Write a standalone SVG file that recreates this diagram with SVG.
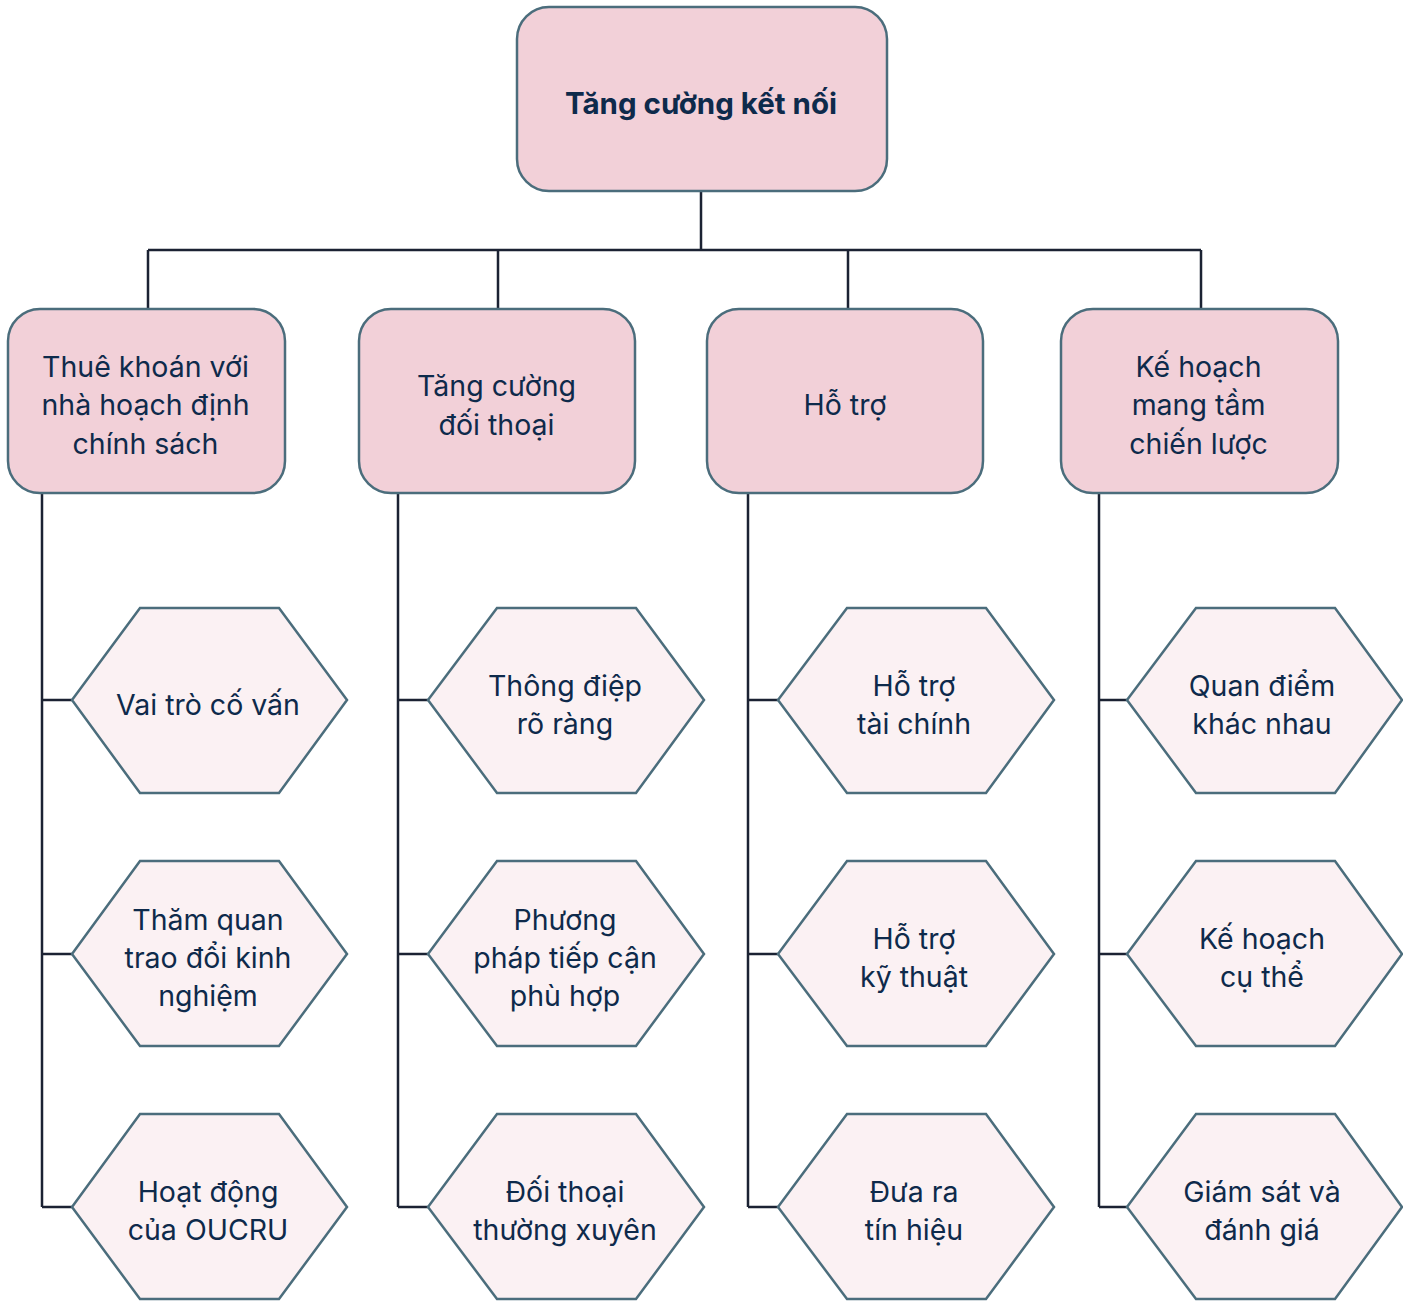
<svg xmlns="http://www.w3.org/2000/svg" width="1403" height="1302" viewBox="0 0 1403 1302">
  <style>
    .box { fill: #f2d0d8; stroke: #4b6d7c; stroke-width: 2.5; }
    .hex { fill: #fbf1f3; stroke: #4b6d7c; stroke-width: 2.5; }
    .wire { fill: none; stroke: #1b2233; stroke-width: 2.5; }
    text { font-family: Inter, "Noto Sans", "DejaVu Sans", sans-serif; font-size: 28.5px; fill: #0e2a4b; text-anchor: middle; }
    .title { font-weight: 700; font-size: 29.5px; }
  </style>
  <rect width="1403" height="1302" fill="#ffffff"/>

  <g id="connectors">
    <path class="wire" d="M701 191 V250 M148 250 H1201 M148 250 V309 M498 250 V309 M848 250 V309 M1201 250 V309"/>
    <path class="wire" d="M42 493 V1207 M42 700 H72 M42 954 H72 M42 1207 H72"/>
    <path class="wire" d="M398 493 V1207 M398 700 H428 M398 954 H428 M398 1207 H428"/>
    <path class="wire" d="M748 493 V1207 M748 700 H778 M748 954 H778 M748 1207 H778"/>
    <path class="wire" d="M1099 493 V1207 M1099 700 H1127 M1099 954 H1127 M1099 1207 H1127"/>
  </g>

  <g id="root">
    <rect class="box" x="517" y="7" width="370" height="184" rx="32"/>
    <text class="title" x="701" y="114">Tăng cường kết nối</text>
  </g>

  <g id="policy">
    <rect class="box" x="8" y="309" width="277" height="184" rx="32"/>
    <text x="145.5" y="377">Thuê khoán với</text>
    <text x="145.5" y="415">nhà hoạch định</text>
    <text x="145.5" y="454">chính sách</text>
  </g>
  <g id="dialogue">
    <rect class="box" x="359" y="309" width="276" height="184" rx="32"/>
    <text x="496.5" y="396">Tăng cường</text>
    <text x="496.5" y="435">đối thoại</text>
  </g>
  <g id="support">
    <rect class="box" x="707" y="309" width="276" height="184" rx="32"/>
    <text x="845" y="415">Hỗ trợ</text>
  </g>
  <g id="strategy">
    <rect class="box" x="1061" y="309" width="277" height="184" rx="32"/>
    <text x="1198.5" y="377">Kế hoạch</text>
    <text x="1198.5" y="415">mang tầm</text>
    <text x="1198.5" y="454">chiến lược</text>
  </g>

  <!-- column 1 -->
  <g id="advisor">
    <polygon class="hex" points="72,700 140,608 279,608 347,700 279,793 140,793"/>
    <text x="208" y="715">Vai trò cố vấn</text>
  </g>
  <g id="visit">
    <polygon class="hex" points="72,954 140,861 279,861 347,954 279,1046 140,1046"/>
    <text x="208" y="930">Thăm quan</text>
    <text x="208" y="968">trao đổi kinh</text>
    <text x="208" y="1006">nghiệm</text>
  </g>
  <g id="oucru">
    <polygon class="hex" points="72,1207 140,1114 279,1114 347,1207 279,1299 140,1299"/>
    <text x="208" y="1202">Hoạt động</text>
    <text x="208" y="1240">của OUCRU</text>
  </g>

  <!-- column 2 -->
  <g id="message">
    <polygon class="hex" points="428,700 497,608 636,608 704,700 636,793 497,793"/>
    <text x="565" y="696">Thông điệp</text>
    <text x="565" y="734">rõ ràng</text>
  </g>
  <g id="approach">
    <polygon class="hex" points="428,954 497,861 636,861 704,954 636,1046 497,1046"/>
    <text x="565" y="930">Phương</text>
    <text x="565" y="968">pháp tiếp cận</text>
    <text x="565" y="1006">phù hợp</text>
  </g>
  <g id="regular">
    <polygon class="hex" points="428,1207 497,1114 636,1114 704,1207 636,1299 497,1299"/>
    <text x="565" y="1202">Đối thoại</text>
    <text x="565" y="1240">thường xuyên</text>
  </g>

  <!-- column 3 -->
  <g id="finance">
    <polygon class="hex" points="778,700 847,608 986,608 1054,700 986,793 847,793"/>
    <text x="914" y="696">Hỗ trợ</text>
    <text x="914" y="734">tài chính</text>
  </g>
  <g id="technical">
    <polygon class="hex" points="778,954 847,861 986,861 1054,954 986,1046 847,1046"/>
    <text x="914" y="949">Hỗ trợ</text>
    <text x="914" y="987">kỹ thuật</text>
  </g>
  <g id="signal">
    <polygon class="hex" points="778,1207 847,1114 986,1114 1054,1207 986,1299 847,1299"/>
    <text x="914" y="1202">Đưa ra</text>
    <text x="914" y="1240">tín hiệu</text>
  </g>

  <!-- column 4 -->
  <g id="views">
    <polygon class="hex" points="1127,700 1196,608 1335,608 1402,700 1335,793 1196,793"/>
    <text x="1262" y="696">Quan điểm</text>
    <text x="1262" y="734">khác nhau</text>
  </g>
  <g id="plan">
    <polygon class="hex" points="1127,954 1196,861 1335,861 1402,954 1335,1046 1196,1046"/>
    <text x="1262" y="949">Kế hoạch</text>
    <text x="1262" y="987">cụ thể</text>
  </g>
  <g id="monitor">
    <polygon class="hex" points="1127,1207 1196,1114 1335,1114 1402,1207 1335,1299 1196,1299"/>
    <text x="1262" y="1202">Giám sát và</text>
    <text x="1262" y="1240">đánh giá</text>
  </g>
</svg>
